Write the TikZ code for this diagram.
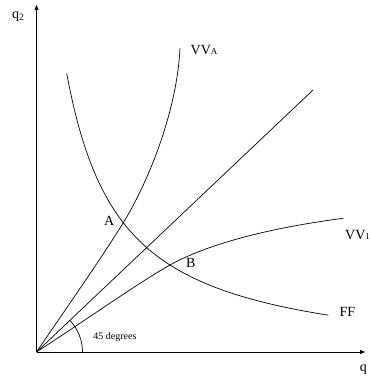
\documentclass[tikz,border=0pt]{standalone}
\usepackage{fontspec}
\setmainfont{Liberation Serif}
\usepackage{tikz}
\usetikzlibrary{arrows.meta,positioning}

\tikzset{
	curve/.style={line width=0.7pt},
	axis/.style={line width=0.7pt, -{Triangle[length=5pt,width=4pt]}},
	lbl/.style={font=\fontsize{14}{14}\selectfont, inner sep=0pt},
	small lbl/.style={font=\fontsize{10}{10}\selectfont, inner sep=0pt}
}

\begin{document}
\begin{tikzpicture}[x=10pt,y=10pt]
		\useasboundingbox (-3.65,-2.7) rectangle (33.25,35.2);
		\coordinate (O) at (0,0);
		\coordinate (xend) at (32.85,0);
		\coordinate (yend) at (0,34.7);
		\coordinate (diag) at (27.65,26.2);
		\coordinate (A) at (8.68,12.93);
		\coordinate (B) at (13.35,8.7);
		\coordinate (vatop) at (14.35,30.37);
		\coordinate (v1end) at (30.68,13.37);

		% axes
		\draw[axis] (O) -- (xend);
		\draw[axis] (O) -- (yend);
		\node[lbl] (q) at (32.68,-1.8) {q};
		\node[lbl] (q2) at (-1.82,33.53) {q\textsubscript{2}};

		% 45 degree line
		\draw[curve] (O) -- (diag);
		\draw[curve] (O) ++(4.6,0) arc[start angle=0, end angle=43.5, radius=4.6];
		\node[small lbl] (deg) at (7.85,1.53) {45 degrees};

		% VV_A, VV_1 and FF
		\draw[curve] (O) .. controls (3,4.4) and (6.5,9.4) .. (A)
			.. controls (10.8,16.36) and (14.0,23.5) .. (vatop);
		\draw[curve] (O) .. controls (6,3.9) and (10,6.8) .. (B)
			.. controls (17.5,11.0) and (24,12.5) .. (v1end);
		\draw[curve] plot[domain=3.02:29.18, samples=80] (\x, {157.2/(\x+2.37)-1.3});

		\node[lbl, anchor=west] (vva) at (15.4,30.2) {VV{\fontsize{9}{9}\selectfont A}};
		\node[lbl, anchor=west] (vv1) at (30.85,11.7) {VV{\fontsize{9}{9}\selectfont 1}};
		\node[lbl, anchor=west] (ff) at (30.28,4.03) {FF};
		\node[lbl] (labA) at (7.28,13.13) {A};
		\node[lbl] (labB) at (15.42,8.9) {B};
	\end{tikzpicture}
\end{document}
